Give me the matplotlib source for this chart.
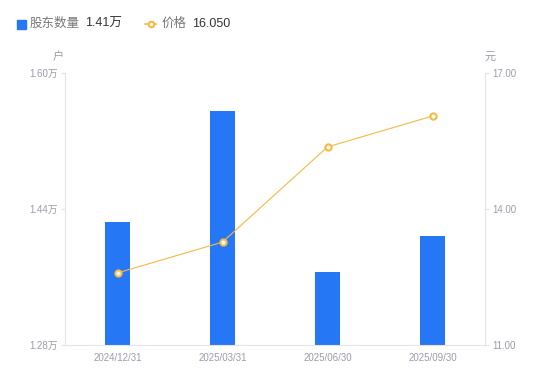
import matplotlib.pyplot as plt
from matplotlib.lines import Line2D

plt.rcParams['font.family'] = ['Liberation Sans', 'Noto Sans CJK SC']

dates = ['2024/12/31', '2025/03/31', '2025/06/30', '2025/09/30']
holders = [1.425, 1.555, 1.366, 1.408]   # 万户
price = [12.59, 13.27, 15.37, 16.05]     # 元
left_ticks = [1.28, 1.44, 1.60]
right_ticks = [11.00, 14.00, 17.00]

bar_color = '#2677f5'
line_color = '#f7b844'
tick_color = '#9b9bab'
axis_color = '#e3e3e8'

fig = plt.figure(figsize=(5.5, 3.81), dpi=100, facecolor='white')
ax = fig.add_axes([65 / 550, 36 / 381, 420 / 550, 272 / 381])
ax2 = ax.twinx()

x = [i + 0.5 for i in range(len(dates))]
ax.bar(x, holders, width=0.24, color=bar_color, zorder=2)
ax.set_xlim(0, 4)
ax.set_ylim(left_ticks[0], left_ticks[-1])
ax.set_yticks(left_ticks)
ax.set_yticklabels([f'{v:.2f}万' for v in left_ticks])
ax.set_xticks(x)
ax.set_xticklabels(dates)

ax2.plot(x, price, color=line_color, lw=0.8, marker='o', ms=4.5,
         mfc='white', mec=line_color, mew=1.5, zorder=3)
ax2.set_ylim(right_ticks[0], right_ticks[-1])
ax2.set_yticks(right_ticks)
ax2.set_yticklabels([f'{v:.2f}' for v in right_ticks])

for a in (ax, ax2):
    for s in a.spines.values():
        s.set_visible(False)
    a.tick_params(axis='both', colors=axis_color, labelcolor=tick_color,
                  labelsize=7, length=3, width=0.8, pad=2)
ax.spines['left'].set_visible(True)
ax.spines['left'].set_color(axis_color)
ax.spines['bottom'].set_visible(True)
ax.spines['bottom'].set_color(axis_color)
ax2.spines['right'].set_visible(True)
ax2.spines['right'].set_color(axis_color)
ax.tick_params(axis='x', length=0, pad=6)
ax2.set_zorder(ax.get_zorder() + 1)
ax2.patch.set_visible(False)

# 单位
fig.text(58 / 550, 1 - 57 / 381, '户', ha='center', va='center', fontsize=8, color=tick_color)
fig.text(490 / 550, 1 - 57 / 381, '元', ha='center', va='center', fontsize=8, color=tick_color)

# 图例
ly = 1 - 24 / 381
fig.patches.append(plt.Rectangle((17 / 550, ly - 4.5 / 381), 9 / 550, 9 / 381,
                                 transform=fig.transFigure, color=bar_color))
fig.text(30 / 550, ly, '股东数量', ha='left', va='center', fontsize=9, color='#777777')
fig.text(85 / 550, ly, '1.41万', ha='left', va='center', fontsize=9, color='#333333')
fig.lines.append(Line2D([145 / 550, 156 / 550], [ly, ly], transform=fig.transFigure,
                        color=line_color, lw=1.2))
fig.lines.append(Line2D([150.5 / 550], [ly], transform=fig.transFigure, marker='o', ms=4,
                        mfc='white', mec=line_color, mew=1.5))
fig.text(162 / 550, ly, '价格', ha='left', va='center', fontsize=9, color='#777777')
fig.text(192 / 550, ly, '16.050', ha='left', va='center', fontsize=9, color='#333333')

fig.savefig('out.png', dpi=100, facecolor='white')
